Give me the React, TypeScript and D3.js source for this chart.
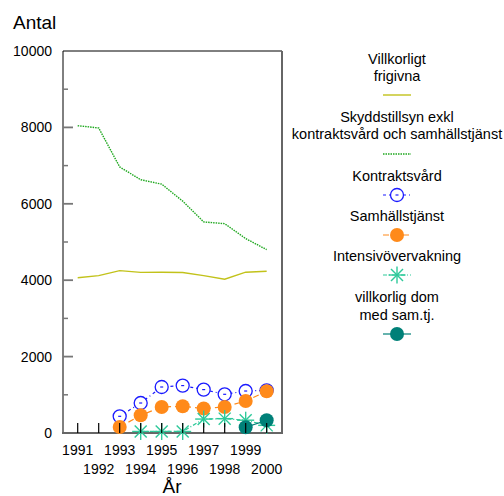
import React from "react";
import * as d3 from "d3";

const years = [1991, 1992, 1993, 1994, 1995, 1996, 1997, 1998, 1999, 2000];
const villkorligtFrigivna = [4065, 4120, 4250, 4205, 4210, 4200, 4120, 4025, 4210, 4235];
const skyddstillsyn = [8045, 7985, 6965, 6630, 6515, 6070, 5525, 5480, 5090, 4800];
const kontraktsvard = [null, null, 437, 785, 1204, 1241, 1136, 1013, 1099, 1118];
const samhallstjanst = [null, null, 157, 463, 681, 699, 640, 681, 838, 1092];
const intensiv = [null, null, null, 40, 40, 40, 365, 376, 335, 200];
const villkorligDom = [null, null, null, null, null, null, null, null, 150, 332];
const yTicksMajor = [0, 2000, 4000, 6000, 8000, 10000];
const yTicksMinor = [1000, 3000, 5000, 7000, 9000];

const FONT = "'Liberation Sans', Arial, sans-serif";

type Series = {
  name: string[];
  values: (number | null)[];
  color: string;
  dash: string | null;
  marker: "none" | "open" | "filled" | "star";
  width: number;
};

const series: Series[] = [
  { name: ["Villkorligt", "frigivna"], values: villkorligtFrigivna, color: "#c2c21a", dash: null, marker: "none", width: 1.4 },
  { name: ["Skyddstillsyn exkl", "kontraktsvård och samhällstjänst"], values: skyddstillsyn, color: "#1fa81f", dash: "1.5,1", marker: "none", width: 1.4 },
  { name: ["Kontraktsvård"], values: kontraktsvard, color: "#1a1aff", dash: "3,3,1,3", marker: "open", width: 1.2 },
  { name: ["Samhällstjänst"], values: samhallstjanst, color: "#ff8a1a", dash: "6,4", marker: "filled", width: 1.2 },
  { name: ["Intensivövervakning"], values: intensiv, color: "#2ec99a", dash: "4,2,1,2", marker: "star", width: 1.2 },
  { name: ["villkorlig dom", "med sam.tj."], values: villkorligDom, color: "#008078", dash: null, marker: "filled", width: 1.2 },
];

const legendTextY = [[59, 76], [117, 134], [176], [216], [256], [297, 315]];
const legendSampleY = [95, 154, 195, 235, 275, 334];

function Marker({ type, x, y, color }: { type: string; x: number; y: number; color: string }) {
  if (type === "open") {
    return (
      <g>
        <circle cx={x} cy={y} r={6.5} fill="white" stroke={color} strokeWidth={1.3} />
        <line x1={x - 1.5} x2={x + 1.5} y1={y} y2={y} stroke={color} strokeWidth={1.2} />
      </g>
    );
  }
  if (type === "filled") {
    return <circle cx={x} cy={y} r={7} fill={color} />;
  }
  if (type === "star") {
    const r = 8.5;
    const arms = d3.range(4).map((i) => (i * Math.PI) / 4);
    return (
      <g stroke={color} strokeWidth={1.4}>
        {arms.map((a, i) => (
          <line key={i} x1={x - r * Math.cos(a)} y1={y - r * Math.sin(a)} x2={x + r * Math.cos(a)} y2={y + r * Math.sin(a)} />
        ))}
      </g>
    );
  }
  return null;
}

export default function App() {
  const left = 63, right = 282, top = 51, bottom = 433;
  const x = d3.scaleLinear().domain([1990.3, 2000.73]).range([left, right]);
  const y = d3.scaleLinear().domain([0, 10000]).range([bottom, top]);

  const lineGen = d3
    .line<[number, number | null]>()
    .defined((d) => d[1] !== null)
    .x((d) => x(d[0]))
    .y((d) => y(d[1] as number));

  const legendX = 397;

  return (
    <svg width={504} height={496} style={{ position: "absolute", left: 0, top: 0, fontFamily: FONT }}>
      <rect x={0} y={0} width={504} height={496} fill="white" />
      <text x={13} y={29} fontSize={19} fill="#000">Antal</text>

      {/* frame */}
      <line x1={left} x2={right} y1={top} y2={top} stroke="#000" strokeWidth={1} />
      <line x1={left} x2={left} y1={top} y2={bottom} stroke="#000" strokeWidth={1} />
      <line x1={right} x2={right} y1={top} y2={bottom + 1} stroke="#666" strokeWidth={2} />
      <line x1={left - 1} x2={right + 1} y1={bottom} y2={bottom} stroke="#666" strokeWidth={2} />

      {/* y ticks */}
      {yTicksMajor.map((t) => (
        <g key={"M" + t}>
          {t !== 0 && t !== 10000 && (
            <line x1={left} x2={left + 10} y1={y(t)} y2={y(t)} stroke="#777" strokeWidth={1.8} />
          )}
          <text x={52} y={y(t)} dy="0.35em" textAnchor="end" fontSize={14} fill="#000">{t}</text>
        </g>
      ))}
      {yTicksMinor.map((t) => (
        <line key={"m" + t} x1={left} x2={left + 5} y1={y(t)} y2={y(t)} stroke="#777" strokeWidth={1.5} />
      ))}

      {/* series lines */}
      {series.map((s, i) => (
        <path
          key={"l" + i}
          d={lineGen(years.map((yr, j) => [yr, s.values[j]] as [number, number | null])) || ""}
          fill="none"
          stroke={s.color}
          strokeWidth={s.width}
          strokeDasharray={s.dash || undefined}
        />
      ))}
      {/* markers */}
      {series.map((s, i) =>
        years.map((yr, j) =>
          s.values[j] !== null && s.marker !== "none" ? (
            <Marker key={"mk" + i + "-" + j} type={s.marker} x={x(yr)} y={y(s.values[j] as number)} color={s.color} />
          ) : null
        )
      )}

      {/* x ticks drawn over data */}
      {years.map((yr) => (
        <line key={"xt" + yr} x1={x(yr)} x2={x(yr)} y1={bottom} y2={bottom - 10} stroke="#000" strokeWidth={1.2} />
      ))}
      {years.map((yr, i) => (
        <text key={"xl" + yr} x={x(yr)} y={i % 2 === 0 ? 455 : 474} textAnchor="middle" fontSize={14} fill="#000">
          {yr}
        </text>
      ))}
      <text x={172} y={493} textAnchor="middle" fontSize={19} fill="#000">År</text>

      {/* legend */}
      {series.map((s, i) => (
        <g key={"lg" + i}>
          {s.name.map((n, k) => (
            <text key={k} x={legendX} y={legendTextY[i][k]} dy="0.35em" textAnchor="middle" fontSize={14.5} fill="#000">
              {n}
            </text>
          ))}
          <line
            x1={legendX - 14}
            x2={legendX + 14}
            y1={legendSampleY[i]}
            y2={legendSampleY[i]}
            stroke={s.color}
            strokeWidth={s.width}
            strokeDasharray={s.dash || undefined}
          />
          {s.marker !== "none" && <Marker type={s.marker} x={legendX} y={legendSampleY[i]} color={s.color} />}
        </g>
      ))}
    </svg>
  );
}
